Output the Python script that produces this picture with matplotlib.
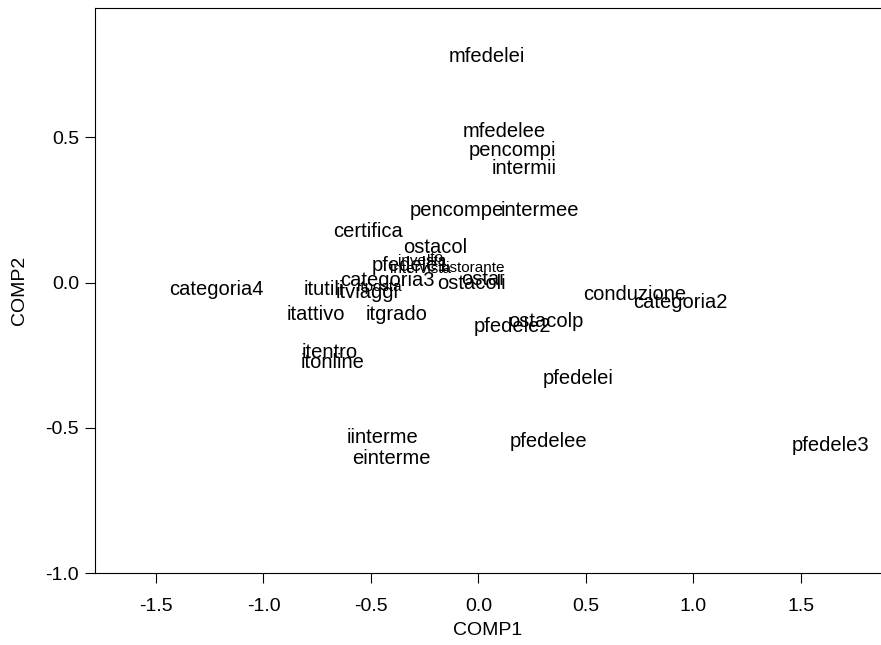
import matplotlib
matplotlib.use("Agg")
import matplotlib.pyplot as plt

plt.rcParams['font.family'] = ['Liberation Sans', 'DejaVu Sans']

# etichette e coordinate (COMP1, COMP2)
labels = ["mfedelei", "mfedelee", "pencompi", "intermii", "pencompe", "intermee",
          "certifica", "ostacol", "categoria4", "conduzione", "categoria2",
          "itattivo", "itgrado", "pfedele2", "ostacolp", "itentro", "itonline",
          "pfedelei", "iinterme", "pfedelee", "pfedele3", "einterme",
          "pfedele1", "categoria3", "ostacoli", "ostai", "itutili", "itviaggi"]
comp1 = [0.04, 0.119, 0.16, 0.212, -0.10, 0.287,
         -0.514, -0.201, -1.22, 0.728, 0.938,
         -0.755, -0.383, 0.157, 0.315, -0.69, -0.68,
         0.463, -0.448, 0.325, 1.64, -0.406,
         -0.318, -0.425, -0.034, 0.02, -0.72, -0.52]
comp2 = [0.777, 0.521, 0.453, 0.391, 0.249, 0.249,
         0.177, 0.122, -0.023, -0.04, -0.068,
         -0.11, -0.11, -0.15, -0.133, -0.24, -0.275,
         -0.33, -0.533, -0.547, -0.561, -0.606,
         0.06, 0.008, -0.002, 0.012, -0.024, -0.033]

# etichette piccole
small_labels = ["investa", "intervista", "ristorante", "ito", "itposta"]
small_c1 = [-0.26, -0.27, -0.025, -0.2, -0.46]
small_c2 = [0.073, 0.046, 0.049, 0.085, -0.015]

fig = plt.figure(figsize=(8.81, 6.45), dpi=100)
ax = fig.add_axes([94.5 / 881, 1 - 573 / 645, 1 - 94.5 / 881, (573 - 8) / 645])

for t, x, y in zip(labels, comp1, comp2):
    ax.text(x, y, t, ha='center', va='center', fontsize=14.5)
for t, x, y in zip(small_labels, small_c1, small_c2):
    ax.text(x, y, t, ha='center', va='center', fontsize=11)

ax.set_xlim(-1.786, 1.873)
ax.set_ylim(-1.0, 0.945)
ax.set_xticks([-1.5, -1.0, -0.5, 0.0, 0.5, 1.0, 1.5])
ax.set_xticklabels(["-1.5", "-1.0", "-0.5", "0.0", "0.5", "1.0", "1.5"])
ax.set_yticks([-1.0, -0.5, 0.0, 0.5])
ax.set_yticklabels(["-1.0", "-0.5", "0.0", "0.5"])
ax.tick_params(direction='out', length=7, width=0.8, labelsize=14)
ax.tick_params(axis='x', pad=11)
ax.tick_params(axis='y', pad=4)
ax.spines['right'].set_visible(False)
ax.set_xlabel("COMP1", fontsize=14, labelpad=5)
ax.set_ylabel("COMP2", fontsize=14, labelpad=13)

fig.savefig("out.png", dpi=100)
